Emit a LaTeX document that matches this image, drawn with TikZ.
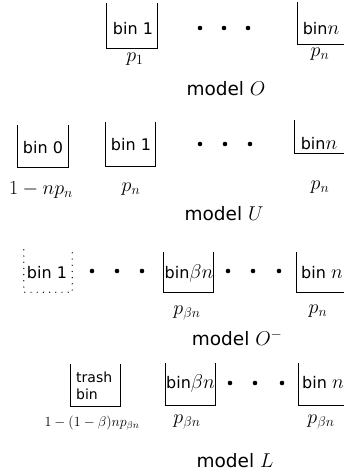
\RequirePackage{fix-cm}
\documentclass[tikz,border=0pt]{standalone}
\usepackage[no-math]{fontspec}
\setmainfont{DejaVu Sans}
\newcommand\binmath[1]{{\fontsize{20}{21}\selectfont$#1$}}
\begin{document}
\begin{tikzpicture}[x=1pt,y=-1pt,
  binbox/.style={rectangle,inner sep=0pt,minimum width=49pt,minimum height=42pt},
  bintext/.style={inner sep=0pt,font=\fontsize{16}{19}\selectfont},
  trashtext/.style={inner sep=0pt,align=left,font=\fontsize{14}{17.5}\selectfont},
  prob/.style={inner sep=0pt,font=\fontsize{20}{22}\selectfont},
  smallprob/.style={inner sep=0pt,font=\fontsize{14}{16}\selectfont},
  caption/.style={inner sep=0pt,font=\fontsize{18.5}{22}\selectfont},
  dot/.style={circle,fill=black,inner sep=0pt,minimum size=4.6pt},
  open/.style={line width=1.2pt},
  opendot/.style={line width=1.4pt,line cap=round,dash pattern=on 0pt off 6.2pt}]
\clip (0,0) rectangle (344,472);
% ---------- model O ----------
\node[binbox,minimum width=50pt,minimum height=45pt] (o1) at (132,25.5) {};
\draw[open] (o1.north west) |- (o1.south east) -- (o1.north east);
\node[bintext] (to1) at (133,29) {bin 1};
\node[prob] (po1) at (135,59) {$p_1$};
\node[dot] (od1) at (200,28) {};
\node[dot] (od2) at (224,28) {};
\node[dot] (od3) at (248,28) {};
\node[binbox,minimum width=52pt,minimum height=42pt] (on) at (324,23) {};
\draw[open] (on.north west) |- (on.south east) -- (on.north east);
\node[bintext] (ton) at (321,29) {bin\binmath{n}};
\node[prob] (pon) at (320,54) {$p_n$};
\node[caption] (co) at (226,89) {model \binmath{O}};
% ---------- model U ----------
\node[binbox,minimum width=50pt,minimum height=42pt] (u0) at (43,146) {};
\draw[open] (u0.north west) |- (u0.south east) -- (u0.north east);
\node[bintext] (tu0) at (43,148) {bin 0};
\node[prob] (pu0) at (41,190) {$1-np_n$};
\node[binbox,minimum width=49pt,minimum height=44pt] (u1) at (130.5,144) {};
\draw[open] (u1.north west) |- (u1.south east) -- (u1.north east);
\node[bintext] (tu1) at (131,145) {bin 1};
\node[prob] (pu1) at (131,189) {$p_n$};
\node[dot] (ud1) at (200,144) {};
\node[dot] (ud2) at (225,144) {};
\node[dot] (ud3) at (250,144) {};
\node[binbox,minimum width=52pt,minimum height=33pt] (un) at (321,136.5) {};
\draw[open] (un.north west) |- (un.south east) -- (un.north east);
\node[bintext] (tun) at (319,144) {bin\binmath{n}};
\node[prob] (pun) at (320,187) {$p_n$};
\node[caption] (cu) at (224,214) {model \binmath{U}};
% ---------- model O^- ----------
\node[binbox,minimum width=48pt,minimum height=42pt] (m1) at (48,271) {};
\draw[opendot] (m1.north west) |- (m1.south east) -- (m1.north east);
\node[bintext] (tm1) at (47,273) {bin 1};
\node[dot] (md1) at (92,271) {};
\node[dot] (md2) at (117,271) {};
\node[dot] (md3) at (142,271) {};
\node[binbox,minimum width=49pt,minimum height=40pt] (mb) at (188.5,272) {};
\draw[open] (mb.north west) |- (mb.south east) -- (mb.north east);
\node[bintext] (tmb) at (189,273) {bin\binmath{\beta n}};
\node[prob] (pmb) at (187,313) {$p_{\beta n}$};
\node[dot] (md4) at (228,271) {};
\node[dot] (md5) at (253,271) {};
\node[dot] (md6) at (279,271) {};
\node[binbox,minimum width=52pt,minimum height=40pt] (mn) at (323,272) {};
\draw[open] (mn.north west) |- (mn.south east) -- (mn.north east);
\node[bintext] (tmn) at (322,273) {bin \binmath{n}};
\node[prob] (pmn) at (318,311) {$p_n$};
\node[caption] (cm) at (237,338) {model \binmath{O^{-}}};
% ---------- model L ----------
\node[binbox,minimum width=49pt,minimum height=42pt] (lt) at (95.5,385) {};
\draw[open] (lt.north west) |- (lt.south east) -- (lt.north east);
\node[trashtext,anchor=west] (tlt) at (76,386) {trash\\bin};
\node[smallprob] (plt) at (92,423) {$1-(1-\beta)np_{\beta n}$};
\node[binbox,minimum width=49pt,minimum height=42pt] (lb) at (190.5,384) {};
\draw[open] (lb.north west) |- (lb.south east) -- (lb.north east);
\node[bintext] (tlb) at (190.5,383) {bin\binmath{\beta n}};
\node[prob] (plb) at (187,422) {$p_{\beta n}$};
\node[dot] (ld1) at (230,383) {};
\node[dot] (ld2) at (255,383) {};
\node[dot] (ld3) at (282,383) {};
\node[binbox,minimum width=52pt,minimum height=42pt] (ln) at (325,384) {};
\draw[open] (ln.north west) |- (ln.south east) -- (ln.north east);
\node[bintext] (tln) at (323,383) {bin \binmath{n}};
\node[prob] (pln) at (321,422) {$p_{\beta n}$};
\node[caption] (cl) at (235,461) {model \binmath{L}};
\end{tikzpicture}
\end{document}
